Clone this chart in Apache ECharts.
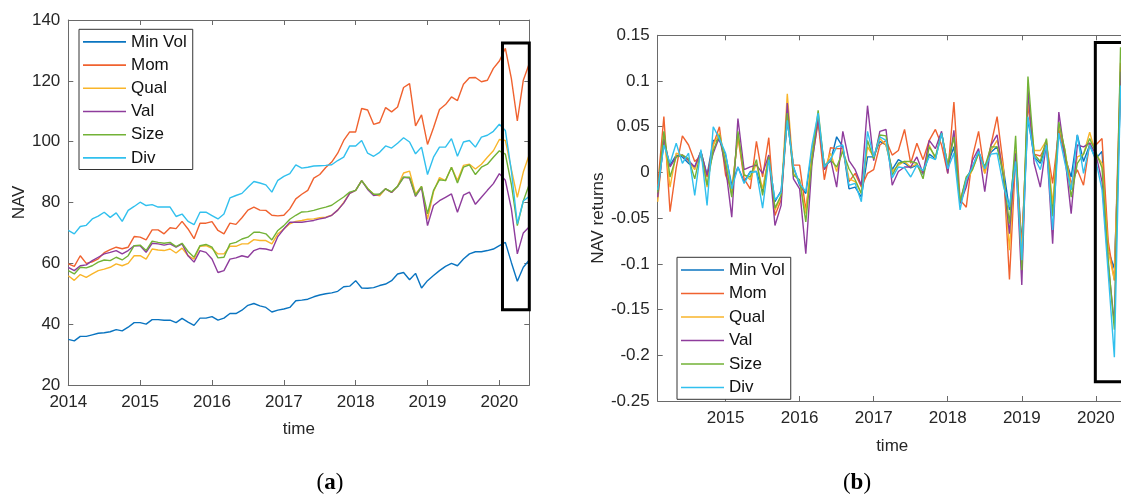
<!DOCTYPE html>
<html><head><meta charset="utf-8">
<script src="https://cdn.jsdelivr.net/npm/echarts@6/dist/echarts.min.js"></script>
<style>html,body{margin:0;padding:0;background:#fff}#c{width:1121px;height:495px}</style>
</head><body><div id="c"></div>
<script>
const seriesNames = ['Min Vol', 'Mom', 'Qual', 'Val', 'Size', 'Div'];
const colors = ['#0A74C0', '#F0622F', '#F9B52A', '#8E3C9C', '#72B236', '#31C0EE'];

// month-end observations, Dec 2013 .. May 2020
const months = [];
for (let y = 2013; y <= 2020; y++) {
  for (let m = 1; m <= 12; m++) {
    if ((y === 2013 && m < 12) || (y === 2020 && m > 5)) continue;
    months.push(y + '-' + String(m).padStart(2, '0'));
  }
}

// (a) NAV levels
const navMinVol = [35,34.5,36,36,36.5,37,37.2,37.5,38.2,37.8, 39,40.5,40.5,40,41.5,41.5,41.3,41.3,40.5,41.9, 40.7,39.6,42,42,42.5,41.3,42,43.5,43.5,44.6, 46.2,46.8,46,45.5,44,44.6,45,45.5,47.7,47.9, 48.2,49,49.6,50,50.3,50.8,52.3,52.5,54.3,51.9, 51.8,52,52.7,53.2,54.3,56.5,57,54.6,56.7,51.9, 54.3,56,57.6,59,60,59.2,61.4,63.1,63.8,63.8, 64.2,64.7,65.8,66.9,60.3,54.1,58.7,61.1];
const navMom = [59.8,59,62.5,60,60.5,61.5,63.5,64.5,65.3,64.8, 65.3,68.8,68.6,67.7,71,71,69.7,71.7,71.4,73.8, 71.3,68.1,73.2,73.2,73.7,70.8,69.7,73.2,72.8,75, 77.5,78.5,77.5,77.4,75.8,75.6,75.8,77.9,81.2,82.7, 84,88,89.2,91.5,93.3,96.2,100.4,103.2,103.2,110.9, 110.4,105.7,106.3,111.2,109.8,111.4,117.8,119.1,105.2,108.8, 99.1,104.6,110.6,112.2,114.7,113.5,118.9,121,121.1,119.7, 120.2,124.1,126.5,130.7,120.8,106.8,120.2,125.7];
const navQual = [55.9,54.4,56.3,55.4,56.5,57.6,58.1,58.7,59.8,59.2, 60,62.5,62.5,61.4,64.7,64.4,64.2,64.7,63.4,65, 62.5,61.4,65.6,65.8,64.9,63.1,63.1,65.6,65.6,66.4, 66.4,67.8,67.5,67.5,66.4,69.7,71.3,73,73.8,74.1, 74.5,74.6,75,75.2,75.8,77.5,80,83,84,87.2, 84.6,82.7,82.2,84.5,83.3,85.3,89.7,90.3,82.8,85.3, 74.5,83.5,88.2,87.2,91.6,87.2,92.2,92.6,91,92.6, 94.9,97,100.7,100.4,91,81.7,90,95.8];
const navVal = [58.7,57.6,59.2,59.5,60.9,62,63.1,63.6,64.2,63.1, 64.2,65.8,65.8,63.6,66.6,66.4,66,66.4,65.3,66.4, 62.5,60.4,64.2,63.6,61.4,57,57.6,61.4,61.8,62.5, 62,64.2,64.9,64.7,64.2,68.8,71.3,73.5,73.5,73.5, 73.8,74.1,74.6,75,75.8,77.5,79.8,83,84,87.2, 84.3,82.3,82.7,84.5,83.3,85.3,88.3,88,82,85, 72.4,79,80.6,81.7,82.8,76.8,82.4,83.4,79.4,81.7, 84,86.2,89.5,87.3,78,63.1,70,72];
const navSize = [57.6,56.5,58.7,58.5,59.2,60.4,61.1,60.9,62,61.1, 62.5,65.8,66,64.2,67.3,66.9,66.6,66.9,65.5,66.6, 63.9,62,65.8,66.2,65.3,61.8,62,66.4,66.9,68, 68.6,70.2,70.2,69.7,67.7,70.8,72.4,74.5,75.8,76.9, 77,77.4,78,78.5,79.1,80.5,81.8,83.4,84,87.2, 84.6,82.7,82.7,84.5,83.5,85.3,88.3,88.3,82.3,85.3, 76.3,84,87.5,87.2,91.6,86.4,91.6,92.4,89.2,91.6, 92.6,94.9,97,95.9,86,72.4,80.5,86];
const navDiv = [70.8,69.7,72.1,72.5,74.6,75.5,76.8,75.1,76.6,73.8, 77.4,78.7,80.1,79,79.3,78.5,78.5,78.5,75.4,76.2, 73.8,72.7,76.8,76.8,75.7,74.6,76.2,81.5,82.3,83, 85,86.9,86.4,85.8,83.4,87.3,88.6,89.5,92.4,91.3, 91.6,92,92.1,92.2,92.4,93.8,94.9,98.6,98.6,100.4, 96.2,95.2,96.5,98.6,97.9,99.5,101.3,99.9,96,98.2, 89.2,94.9,98.2,98.2,101,95.2,99.9,100.4,98.2,101.5, 102.1,103.4,105.7,103.7,90.5,73,80.5,82];

// (b) NAV returns, Jan 2014 .. May 2020
const retMinVol = [-0.02,0.032,0.008,0.019,0.017,0.01,0.006,0.023,-0.003,0.035, 0.035,0.019,-0.014,0.006,-0.01,0.001,0.001,-0.021,0.017,-0.032, -0.02,0.057,0.006,-0.014,-0.023,0.024,0.057,0.008,0.012,0.039, 0.028,-0.018,-0.016,-0.027,0.017,0.017,0.034,0.03,0.003,0.014, 0.01,0.005,0.008,-0.002,0.02,0.015,0.043,0.008,0.028,-0.032, -0.007,0.006,0.023,0.006,0.022,0.028,0.005,-0.041,0.024,-0.078, 0.059,0.017,0.01,0.03,-0.045,0.048,0.017,-0.005,0.041,0.012, 0.03,0.015,0.023,-0.085,-0.105,0.085,0.04];
const retMom = [-0.015,0.061,-0.043,0.005,0.04,0.03,0.012,0.018,-0.005,0.03, 0.05,-0.003,-0.019,0.039,-0.007,-0.018,0.034,-0.005,0.038,-0.047, -0.03,0.059,0.008,0.008,-0.041,0.013,0.055,-0.008,0.027,0.026, 0.026,-0.01,-0.001,-0.016,-0.001,0.003,0.03,0.035,0.019,0.024, 0.047,0.01,0.032,0.014,0.035,0.047,0.03,-0.001,0.077,-0.03, -0.038,0.017,0.045,-0.001,0.03,0.061,0.008,-0.117,0.017,-0.081, 0.075,0.02,0.018,0.03,-0.012,0.046,0.02,-0.012,0.003,-0.014, 0.032,0.03,0.037,-0.075,-0.118,0.12,0.046];
const retQual = [-0.032,0.041,-0.016,0.021,0.019,0.013,0.003,0.023,-0.016,0.03, 0.043,0.012,-0.023,0.041,-0.002,-0.008,0.01,-0.018,0.019,-0.041, -0.027,0.086,-0.001,-0.01,-0.045,0.021,0.061,0.003,0.021,0.001, 0.026,-0.007,-0.01,-0.023,0.028,0.017,0.037,0.03,0.001,0.008, 0.012,0.006,0.009,-0.001,0.03,0.015,0.043,0.008,0.04,-0.03, -0.012,0.003,0.021,-0.001,0.024,0.035,0.005,-0.085,0.024,-0.09, 0.083,0.024,0.024,0.035,-0.035,0.052,0.024,-0.019,0.017,0.02, 0.044,0.02,0.01,-0.085,-0.118,0.1,0.064];
const retVal = [-0.027,0.037,0.006,0.017,0.019,0.013,0.006,0.023,-0.003,0.021, 0.039,0.006,-0.049,0.059,0.003,0.006,0.008,-0.001,0.019,-0.058, -0.036,0.076,-0.007,-0.018,-0.089,0.01,0.059,0.003,0.015,-0.016, 0.045,0.013,0.003,-0.014,0.073,0.013,0.045,0.047,-0.014,0.001, 0.006,0.006,0.017,-0.001,0.035,0.026,0.045,-0.001,0.046,-0.034, -0.016,0.013,0.026,-0.021,0.03,0.041,-0.005,-0.067,0.021,-0.123, 0.09,0.01,-0.016,0.032,-0.078,0.066,0.017,-0.045,0.03,0.028, 0.032,0.02,-0.01,-0.1,-0.165,0.11,0.029];
const retSize = [-0.022,0.045,-0.005,0.017,0.019,0.015,-0.007,0.023,-0.014,0.024, 0.041,0.01,-0.027,0.045,-0.003,-0.005,0.014,-0.025,0.017,-0.039, -0.025,0.065,-0.003,-0.008,-0.054,0.014,0.068,0.006,0.014,0.006, 0.023,0.004,-0.008,-0.023,0.035,0.015,0.041,0.04,-0.003,0.01, 0.012,0.012,0.01,-0.007,0.028,0.017,0.043,0.008,0.039,-0.032, -0.005,0.003,0.021,0.006,0.028,0.028,-0.002,-0.056,0.04,-0.107, 0.105,0.02,0.012,0.037,-0.048,0.055,0.024,-0.027,0.01,0.02, 0.037,0.022,0.005,-0.095,-0.172,0.137,0.068];
const retDiv = [-0.019,0.03,0.01,0.032,0.01,0.021,-0.025,0.025,-0.036,0.05, 0.037,0.021,-0.018,0.006,-0.012,0,0.001,-0.039,0.014,-0.03, -0.022,0.057,0.006,-0.012,-0.021,0.03,0.065,0.006,0.014,0.028, 0.03,-0.014,-0.012,-0.032,0.045,0.017,0.039,0.035,-0.006,0.006, 0.005,-0.005,0.008,0.002,0.017,0.014,0.043,0.004,0.021,-0.041, -0.008,0.006,0.023,0.004,0.02,0.021,-0.014,-0.038,0.012,-0.096, 0.061,0.017,0.003,0.03,-0.063,0.043,0.01,-0.019,0.041,-0.001, 0.03,0.013,-0.019,-0.11,-0.202,0.095,0.019];

// tick labels
const navYears = [2014, 2015, 2016, 2017, 2018, 2019, 2020];
const retYears = [2015, 2016, 2017, 2018, 2019, 2020];
const navTicks = [20, 40, 60, 80, 100, 120, 140];
const retTicks = [-0.25, -0.2, -0.15, -0.1, -0.05, 0, 0.05, 0.1, 0.15];

// highlighted COVID window (data space)
const boxA = { x: ['2020-01', '2020-05'], y: [44.7, 132.4] };
const boxB = { x: ['2019-12', '2020-05'], y: [-0.229, 0.142] };

const navData = [navMinVol, navMom, navQual, navVal, navSize, navDiv];
const retData = [retMinVol, retMom, retQual, retVal, retSize, retDiv];

function toX(label) { const p = label.split('-').map(Number); return p[0] + p[1] / 12; }

const FONT = '"Liberation Sans", Arial, sans-serif';
const SERIF = '"Liberation Serif", "Times New Roman", serif';
const TXT = '#262626';
const AX = '#6a6a6a';

function xAx(grid, pos, ticks, mn, mx, labels, name, gap) {
  return {
    gridIndex: grid, type: 'value', position: pos, min: mn, max: mx,
    axisLine: { show: true, onZero: false, lineStyle: { color: AX, width: 1 } },
    axisTick: { show: true, inside: true, length: 5, customValues: ticks, lineStyle: { color: AX } },
    axisLabel: { show: labels, customValues: ticks, fontSize: 17, color: TXT, fontFamily: FONT, margin: 9, formatter: v => String(Math.round(v)) },
    splitLine: { show: false },
    name: name || '', nameLocation: 'middle', nameGap: gap || 33,
    nameTextStyle: { fontSize: 17, color: TXT, fontFamily: FONT }
  };
}
function yAx(grid, pos, ticks, labels, name, gap, fmt) {
  return {
    gridIndex: grid, type: 'value', position: pos,
    min: ticks[0], max: ticks[ticks.length - 1], interval: ticks[1] - ticks[0],
    axisLine: { show: true, onZero: false, lineStyle: { color: AX, width: 1 } },
    axisTick: { show: true, inside: true, length: 5, lineStyle: { color: AX } },
    axisLabel: { show: labels, fontSize: 17, color: TXT, fontFamily: FONT, margin: 8, formatter: fmt },
    splitLine: { show: false },
    name: name || '', nameLocation: 'middle', nameGap: gap || 40, nameRotate: 90,
    nameTextStyle: { fontSize: 17, color: TXT, fontFamily: FONT }
  };
}

const xA0 = toX(months[0]), xA1 = toX(months[months.length - 1]);
const xB0 = toX(months[1]);

const series = [];
navData.forEach((arr, k) => series.push({
  name: seriesNames[k], type: 'line', xAxisIndex: 0, yAxisIndex: 0,
  data: months.map((m, i) => [toX(m), arr[i]]),
  symbol: 'none', lineStyle: { width: 1.4, color: colors[k] }, itemStyle: { color: colors[k] },
  animation: false
}));
retData.forEach((arr, k) => series.push({
  name: seriesNames[k], type: 'line', xAxisIndex: 2, yAxisIndex: 2,
  data: months.slice(1).map((m, i) => [toX(m), arr[i]]),
  symbol: 'none', lineStyle: { width: 1.4, color: colors[k] }, itemStyle: { color: colors[k] },
  animation: false
}));

function legend(left, top, lh) {
  return {
    data: seriesNames, orient: 'vertical', left: left, top: top,
    icon: 'rect', itemWidth: 43, itemHeight: 1.6, itemGap: 0,
    padding: [1, 6, 0, 4], borderColor: '#333', borderWidth: 1, backgroundColor: '#fff',
    selectedMode: false,
    textStyle: { fontSize: 17, color: '#111', fontFamily: FONT, lineHeight: lh }
  };
}

const chart = echarts.init(document.getElementById('c'), null, { renderer: 'canvas' });
chart.setOption({
  animation: false,
  backgroundColor: '#fff',
  grid: [
    { left: 68.3, top: 20, width: 461, height: 365, containLabel: false, outerBoundsMode: 'none' },
    { left: 657.7, top: 35.3, width: 469, height: 365.7, containLabel: false, outerBoundsMode: 'none' }
  ],
  xAxis: [
    xAx(0, 'bottom', navYears, xA0, xA1, true, 'time', 36),
    xAx(0, 'top', navYears, xA0, xA1, false),
    xAx(1, 'bottom', retYears, xB0, xA1, true, 'time', 37),
    xAx(1, 'top', retYears, xB0, xA1, false)
  ],
  yAxis: [
    yAx(0, 'left', navTicks, true, 'NAV', 39, v => String(v)),
    yAx(0, 'right', navTicks, false),
    yAx(1, 'left', retTicks, true, 'NAV returns', 51, v => String(parseFloat(v.toFixed(2)))),
    yAx(1, 'right', retTicks, false)
  ],
  legend: [legend(79, 29.3, 23.2), legend(677, 257.3, 23.5)],
  series: series
});

function boxGraphic(id, box, seriesIndex, dx0) {
  const p0 = chart.convertToPixel({ seriesIndex: seriesIndex }, [toX(box.x[0]) + dx0, box.y[1]]);
  const p1 = chart.convertToPixel({ seriesIndex: seriesIndex }, [toX(box.x[1]), box.y[0]]);
  return { id: id, type: 'rect', z: 100, silent: true,
           shape: { x: p0[0], y: p0[1], width: p1[0] - p0[0], height: p1[1] - p0[1] },
           style: { fill: 'rgba(0,0,0,0)', stroke: '#000', lineWidth: 3 } };
}
function caption(id, letter, x) {
  return { id: id, type: 'text', z: 100, silent: true, x: x, y: 483,
    style: { text: '{p|(}{b|' + letter + '}{p|)}', align: 'center', verticalAlign: 'middle',
      rich: { p: { fontFamily: SERIF, fontSize: 23, fill: '#000' },
              b: { fontFamily: SERIF, fontSize: 23, fontWeight: 'bold', fill: '#000' } } } };
}
chart.setOption({ graphic: [
  boxGraphic('boxA', boxA, 0, -0.04),
  boxGraphic('boxB', boxB, 6, -0.007),
  caption('capA', 'a', 330),
  caption('capB', 'b', 857)
] });
</script></body></html>
